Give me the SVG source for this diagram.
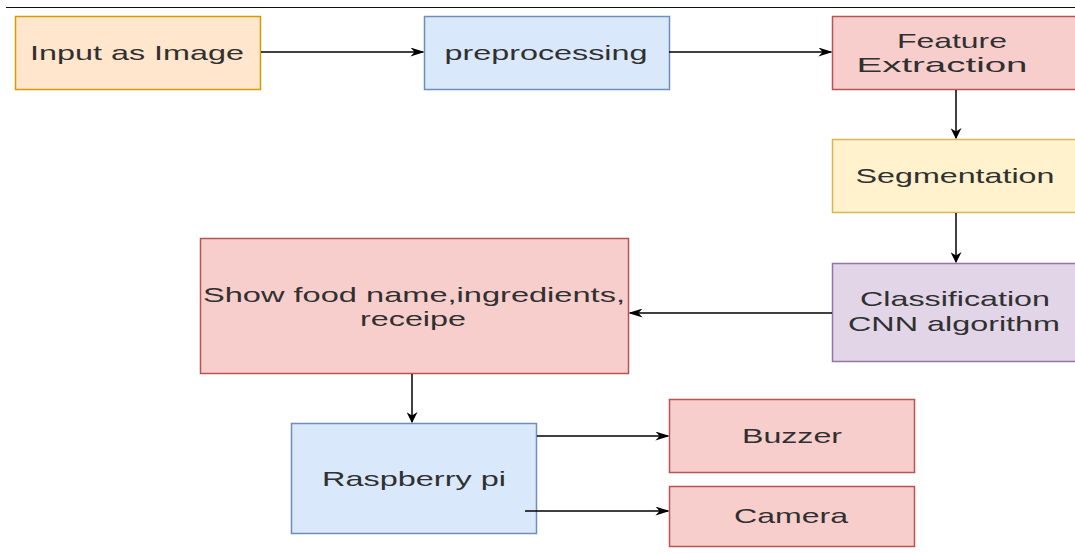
<svg xmlns="http://www.w3.org/2000/svg" width="1075" height="553" viewBox="0 0 1075 553">
  <style>
    .box { stroke-width: 1.5; }
    .orange { fill: #ffe6cc; stroke: #d79b00; }
    .blue { fill: #dae8fc; stroke: #6c8ebf; }
    .red { fill: #f8cecc; stroke: #b85450; }
    .yellow { fill: #fff2cc; stroke: #d6b656; }
    .purple { fill: #e1d5e7; stroke: #9673a6; }
    .label { font-family: "Liberation Sans", Arial, sans-serif; font-size: 21px; fill: #303030; text-anchor: middle; }
    .edge { fill: none; stroke: #000; stroke-width: 1.5; }
  </style>
  <defs>
    <marker id="arrow" viewBox="0 0 10 10" refX="9" refY="5" markerWidth="11" markerHeight="11" markerUnits="userSpaceOnUse" orient="auto" preserveAspectRatio="none">
      <path d="M0,0 L10,5 L0,10 L3,5 Z" fill="#000"/>
    </marker>
    <marker id="arrowWide" viewBox="0 0 10 10" refX="9" refY="5" markerWidth="14" markerHeight="9" markerUnits="userSpaceOnUse" orient="auto" preserveAspectRatio="none">
      <path d="M0,0 L10,5 L0,10 L3,5 Z" fill="#000"/>
    </marker>
  </defs>

  <rect width="1075" height="553" fill="#ffffff"/>
  <!-- top rule -->
  <line x1="6" y1="7.5" x2="1075" y2="7.5" stroke="#111" stroke-width="1.2"/>

  <g id="input-image">
    <rect class="box orange" x="15.5" y="16.5" width="245" height="73"/>
    <text class="label" x="137" y="59.5" textLength="214" lengthAdjust="spacingAndGlyphs">Input as Image</text>
  </g>

  <g id="preprocessing">
    <rect class="box blue" x="424.5" y="16.5" width="245" height="73"/>
    <text class="label" x="546" y="59.5" textLength="203" lengthAdjust="spacingAndGlyphs">preprocessing</text>
  </g>

  <g id="feature-extraction">
    <rect class="box red" x="832.5" y="16.5" width="246" height="73"/>
    <text class="label" x="952" y="47.5" textLength="110" lengthAdjust="spacingAndGlyphs">Feature</text>
    <text class="label" x="942" y="71.5" textLength="171" lengthAdjust="spacingAndGlyphs">Extraction</text>
  </g>

  <g id="segmentation">
    <rect class="box yellow" x="832.5" y="139.5" width="246" height="73"/>
    <text class="label" x="955" y="183" textLength="199" lengthAdjust="spacingAndGlyphs">Segmentation</text>
  </g>

  <g id="classification">
    <rect class="box purple" x="832.5" y="263.5" width="246" height="98"/>
    <text class="label" x="955" y="306" textLength="190" lengthAdjust="spacingAndGlyphs">Classification</text>
    <text class="label" x="954" y="331" textLength="212" lengthAdjust="spacingAndGlyphs">CNN algorithm</text>
  </g>

  <g id="show-food">
    <rect class="box red" x="200.5" y="238.5" width="428" height="135"/>
    <text class="label" x="414" y="302" textLength="422" lengthAdjust="spacingAndGlyphs">Show food name,ingredients,</text>
    <text class="label" x="413" y="326" textLength="106" lengthAdjust="spacingAndGlyphs">receipe</text>
  </g>

  <g id="raspberry-pi">
    <rect class="box blue" x="291.5" y="423.5" width="245" height="110"/>
    <text class="label" x="414" y="486" textLength="184" lengthAdjust="spacingAndGlyphs">Raspberry pi</text>
  </g>

  <g id="buzzer">
    <rect class="box red" x="669.5" y="399.5" width="245" height="73"/>
    <text class="label" x="792" y="443" textLength="100" lengthAdjust="spacingAndGlyphs">Buzzer</text>
  </g>

  <g id="camera">
    <rect class="box red" x="669.5" y="486.5" width="245" height="60"/>
    <text class="label" x="791" y="523" textLength="114" lengthAdjust="spacingAndGlyphs">Camera</text>
  </g>

  <!-- connectors drawn last so the camera link shows inside the Raspberry pi box -->
  <g id="connectors">
    <line class="edge" x1="261" y1="52" x2="423" y2="52" marker-end="url(#arrowWide)"/>
    <line class="edge" x1="669" y1="52" x2="831" y2="52" marker-end="url(#arrowWide)"/>
    <line class="edge" x1="956" y1="90" x2="956" y2="138" marker-end="url(#arrow)"/>
    <line class="edge" x1="956" y1="213" x2="956" y2="262" marker-end="url(#arrow)"/>
    <line class="edge" x1="832" y1="313" x2="630" y2="313" marker-end="url(#arrowWide)"/>
    <line class="edge" x1="412" y1="374" x2="412" y2="422" marker-end="url(#arrow)"/>
    <line class="edge" x1="537" y1="436" x2="668" y2="436" marker-end="url(#arrowWide)"/>
    <line class="edge" x1="525" y1="511" x2="668" y2="511" marker-end="url(#arrowWide)"/>
  </g>
</svg>
